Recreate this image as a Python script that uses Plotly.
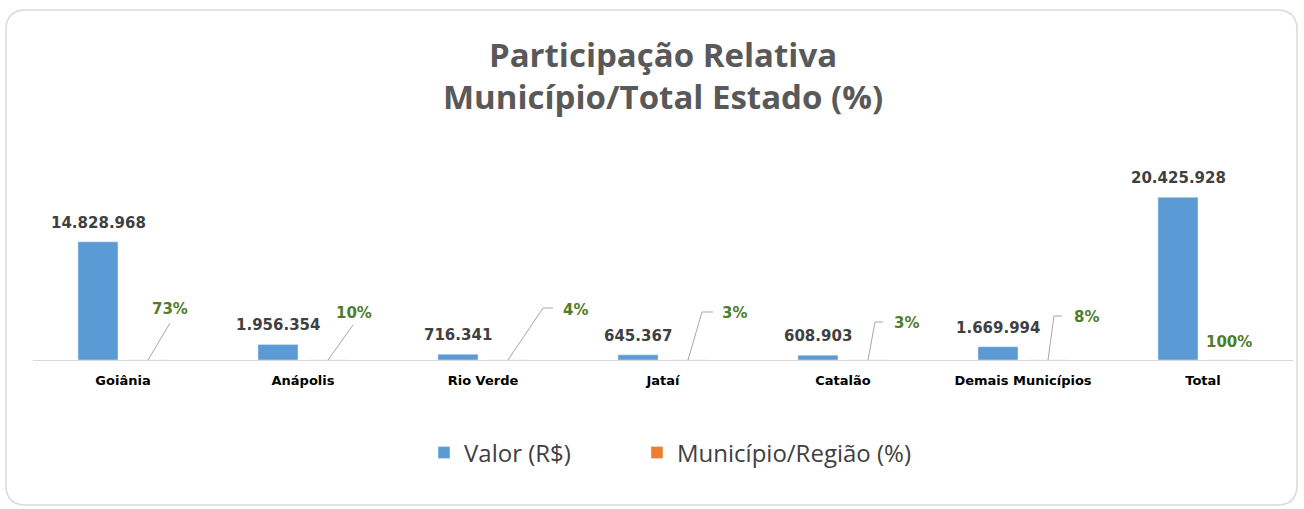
import plotly.graph_objects as go

# ---- data ----
categories = ["Goiânia", "Anápolis", "Rio Verde", "Jataí", "Catalão", "Demais Municípios", "Total"]
valor = [14828968, 1956354, 716341, 645367, 608903, 1669994, 20425928]
participacao = [0.73, 0.10, 0.04, 0.03, 0.03, 0.08, 1.00]
pct_labels = ["73%", "10%", "4%", "3%", "3%", "8%", "100%"]

# ---- label placement (pixel offsets from the category centre / bar tip) ----
pct_dx = [27, 31, 78, 57, 49, 49, 1]
pct_dy = [51, 47, 50, 47, 37, 43, 18]
leader_paths = [
    "M25,0 L47,37",
    "M25,0 L50,35",
    "M25,0 L60,52 L70,52",
    "M25,0 L39,48 L50,48",
    "M25,0 L32,38 L40,38",
    "M25,0 L31,44 L39,44",
    None,
]

BLUE = "#5B9BD5"
ORANGE = "#ED7D31"
GREEN = "#4E7D2C"

W, H = 1304, 509
ML, MR, MT, MB = 33, 11, 160, 149

fig = go.Figure()
fig.add_trace(go.Bar(name="Valor (R$)", x=categories, y=valor, marker_color=BLUE,
                     legend="legend", showlegend=True,
                     hovertemplate="%{x}: %{y:,.0f}<extra></extra>"))
fig.add_trace(go.Bar(name="Município/Região (%)", x=categories, y=participacao, marker_color=ORANGE,
                     legend="legend2", showlegend=True,
                     hovertemplate="%{x}: %{y:.0%}<extra></extra>"))

annotations = []
for c, v in zip(categories, valor):
    annotations.append(dict(x=c, y=v, xref="x", yref="y", text=f"{v:,}".replace(",", "."),
                            showarrow=False, xshift=-25, yshift=19, yanchor="middle",
                            font=dict(family="DejaVu Sans", size=15, color="#404040", weight="bold")))
for c, p, t, dx, dy in zip(categories, participacao, pct_labels, pct_dx, pct_dy):
    annotations.append(dict(x=c, y=p, xref="x", yref="y", text=t, showarrow=False,
                            xanchor="left", yanchor="middle", xshift=dx, yshift=dy,
                            font=dict(family="DejaVu Sans", size=15, color=GREEN, weight="bold")))

shapes = []
for c, p, path in zip(categories, participacao, leader_paths):
    if path:
        shapes.append(dict(type="path", xref="x", yref="y", xsizemode="pixel", ysizemode="pixel",
                           xanchor=c, yanchor=p, path=path,
                           line=dict(color="#A6A6A6", width=1)))

# outer rounded frame (pixel positions converted to paper units)
pw, ph = W - ML - MR, H - MT - MB
def px(xp):
    return (xp - ML) / pw
def py(yp):
    return (H - MB - yp) / ph
x0, x1, yt, yb = px(6), px(1297), py(10), py(505)
rx, ry = 20 / pw, 20 / ph
frame = (f"M{x0+rx},{yt} L{x1-rx},{yt} Q{x1},{yt} {x1},{yt-ry} L{x1},{yb+ry} "
         f"Q{x1},{yb} {x1-rx},{yb} L{x0+rx},{yb} Q{x0},{yb} {x0},{yb+ry} "
         f"L{x0},{yt-ry} Q{x0},{yt} {x0+rx},{yt} Z")
shapes.append(dict(type="path", xref="paper", yref="paper", path=frame,
                   line=dict(color="#D9D9D9", width=1.5), layer="below"))

legend_font = dict(family="Open Sans", size=24, color="#404040")

fig.update_layout(
    width=W, height=H,
    margin=dict(l=ML, r=MR, t=MT, b=MB),
    paper_bgcolor="white", plot_bgcolor="white",
    separators=",.",
    showlegend=True,
    barmode="group", bargap=0.444, bargroupgap=0.2,
    title=dict(text="<b>Participação Relativa<br>Município/Total Estado (%)</b>",
               x=0.5, xref="paper", xanchor="center",
               y=1 - 66.5 / H, yref="container", yanchor="middle",
               font=dict(family="Open Sans", size=33, color="#595959")),
    xaxis=dict(showline=True, linecolor="#D9D9D9", linewidth=1, ticks="",
               tickfont=dict(family="DejaVu Sans", size=13, color="#000000", weight="bold"),
               ticklabelstandoff=8, showgrid=False, zeroline=False, fixedrange=True),
    yaxis=dict(range=[0, 25.1e6], visible=False, showgrid=False, zeroline=False, fixedrange=True),
    legend=dict(orientation="h", x=px(424), xanchor="left", y=py(453), yanchor="middle",
                font=legend_font, visible=True),
    legend2=dict(orientation="h", x=px(637), xanchor="left", y=py(453), yanchor="middle",
                 font=legend_font, visible=True),
    annotations=annotations,
    shapes=shapes,
)

fig.write_html("out.html", post_script="document.body.style.margin='0';",
               config={"displayModeBar": False})
